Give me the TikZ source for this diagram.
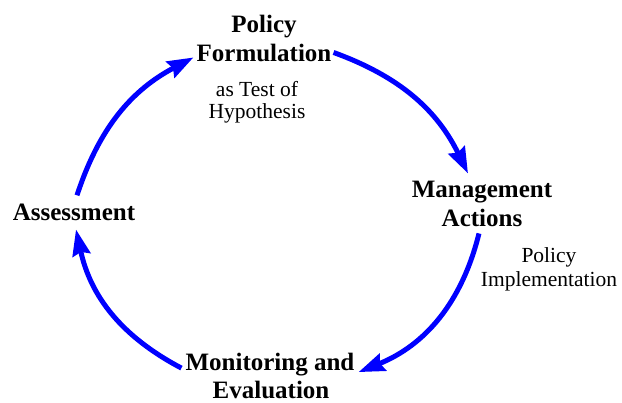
\documentclass[tikz,border=0pt]{standalone}
\usepackage{fontspec}
\setmainfont{Liberation Serif}
\usetikzlibrary{arrows.meta,calc}
\begin{document}
\begin{tikzpicture}[x=1pt,y=1pt,
  bold/.style={font=\fontsize{25}{29}\selectfont\bfseries, inner sep=0pt, anchor=base},
  plain/.style={font=\fontsize{21.5}{24}\selectfont, inner sep=0pt, anchor=base},
  cyc/.style={draw=blue, line width=5pt, -{Stealth[length=26pt,width=18pt,inset=3pt]}}]
\useasboundingbox (0,0) rectangle (622,-403);
\node[bold] (pol) at (264,-33) {Policy};
\node[bold] (form) at (264,-62) {Formulation};
\node[plain] (test) at (257,-97) {as Test of};
\node[plain] (hyp) at (257,-119) {Hypothesis};
\node[bold] (mgmt) at (482,-198) {Management};
\node[bold] (act) at (482,-227) {Actions};
\node[plain] (pi1) at (549,-263) {Policy};
\node[plain] (pi2) at (549,-287) {Implementation};
\node[bold] (assess) at (74,-221) {Assessment};
\node[bold] (mon) at (270,-371) {Monitoring and};
\node[bold] (eval) at (271,-399) {Evaluation};
\draw[cyc] ([shift={(3,9)}]assess.north) to[bend left=22] ([shift={(-3,-4)}]form.west);
\draw[cyc] ([shift={(2,1)}]form.east) to[bend left=22] ([shift={(-14,8)}]mgmt.north);
\draw[cyc] ([shift={(-3,-6)}]act.south) to[bend left=27] ([shift={(4,-7)}]mon.east);
\draw[cyc] ([shift={(-4,-3)}]mon.west) to[bend left=25] ([shift={(2,-8)}]assess.south);
\end{tikzpicture}
\end{document}
